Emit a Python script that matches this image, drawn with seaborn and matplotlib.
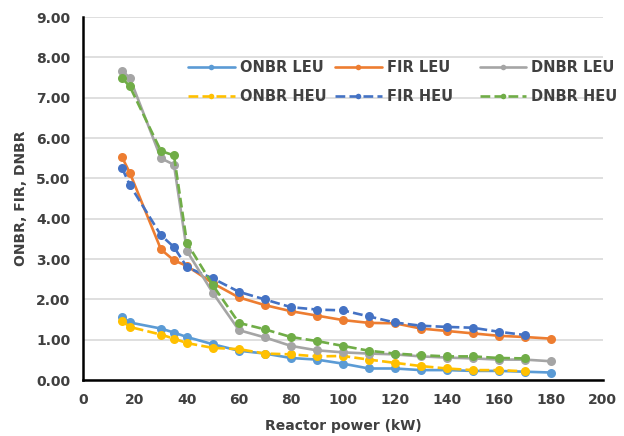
import matplotlib
matplotlib.use("Agg")
import matplotlib.pyplot as plt
from matplotlib.lines import Line2D
import seaborn as sns
import pandas as pd
import numpy as np

# reactor power (kW)
power_leu = [15, 18, 30, 35, 40, 50, 60, 70, 80, 90, 100, 110, 120, 130, 140, 150, 160, 170, 180]
power_heu = [15, 18, 30, 35, 40, 50, 60, 70, 80, 90, 100, 110, 120, 130, 140, 150, 160, 170]

onbr_leu = [1.57, 1.43, 1.28, 1.18, 1.07, 0.89, 0.73, 0.66, 0.55, 0.51, 0.41, 0.29, 0.29, 0.25, 0.25, 0.23, 0.23, 0.21, 0.19]
fir_leu = [5.53, 5.14, 3.24, 2.97, 2.83, 2.40, 2.05, 1.86, 1.71, 1.60, 1.49, 1.42, 1.41, 1.28, 1.22, 1.16, 1.10, 1.07, 1.03]
dnbr_leu = [7.67, 7.49, 5.50, 5.34, 3.20, 2.16, 1.24, 1.06, 0.85, 0.74, 0.69, 0.66, 0.64, 0.59, 0.56, 0.54, 0.51, 0.51, 0.47]

onbr_heu = [1.47, 1.32, 1.13, 1.03, 0.92, 0.80, 0.77, 0.66, 0.64, 0.59, 0.60, 0.51, 0.43, 0.35, 0.29, 0.25, 0.25, 0.22]
fir_heu = [5.26, 4.84, 3.59, 3.30, 2.80, 2.52, 2.19, 2.00, 1.81, 1.75, 1.73, 1.58, 1.43, 1.35, 1.32, 1.30, 1.20, 1.12]
dnbr_heu = [7.49, 7.28, 5.68, 5.57, 3.40, 2.35, 1.42, 1.26, 1.07, 0.97, 0.85, 0.73, 0.66, 0.62, 0.59, 0.59, 0.55, 0.54]

sns.set_theme(style="white")
plt.rcParams["font.family"] = ["DejaVu Sans"]

fig, ax = plt.subplots(figsize=(6.24, 4.36), dpi=100)
fig.subplots_adjust(left=0.133, right=0.966, bottom=0.128, top=0.961)

series = [
    ("ONBR LEU", power_leu, onbr_leu, "#5B9BD5", "-"),
    ("ONBR HEU", power_heu, onbr_heu, "#FFC000", "--"),
    ("FIR LEU", power_leu, fir_leu, "#ED7D31", "-"),
    ("FIR HEU", power_heu, fir_heu, "#4472C4", "--"),
    ("DNBR LEU", power_leu, dnbr_leu, "#A5A5A5", "-"),
    ("DNBR HEU", power_heu, dnbr_heu, "#70AD47", "--"),
]

for name, xs, ys, col, ls in series:
    df = pd.DataFrame({"power": xs, "val": ys})
    sns.lineplot(data=df, x="power", y="val", ax=ax, color=col, linestyle=ls,
                 marker="o", markersize=6.5, markeredgewidth=0, linewidth=1.9, legend=False)

ax.set_xlim(0, 200)
ax.set_ylim(0, 9)
ax.set_xticks(np.arange(0, 201, 20))
ax.set_yticks(np.arange(0, 9.01, 1))
ax.set_yticklabels([f"{v:.2f}" for v in np.arange(0, 9.01, 1)])
ax.yaxis.grid(True, color="#D9D9D9", linewidth=1.2)
ax.xaxis.grid(False)
for s in ["top", "right"]:
    ax.spines[s].set_visible(False)
for s in ["left", "bottom"]:
    ax.spines[s].set_color("black")
    ax.spines[s].set_linewidth(1.8)
ax.tick_params(axis="both", which="major", direction="out", length=5, width=1.5,
               color="black", labelsize=10, labelcolor="#404040")
ax.tick_params(axis="x", pad=4)
ax.tick_params(axis="y", pad=4)
for lbl in ax.get_xticklabels() + ax.get_yticklabels():
    lbl.set_fontweight("bold")

ax.set_xlabel("Reactor power (kW)", fontsize=10, fontweight="bold", color="#404040", labelpad=9)
ax.set_ylabel("ONBR, FIR, DNBR", fontsize=10, fontweight="bold", color="#404040", labelpad=6)

# legend: three equal-width columns (one legend per column, like the Excel layout)
handles = [Line2D([], [], color=col, linestyle=ls, linewidth=1.9, marker="o",
                  markersize=4, markeredgewidth=0) for _, _, _, col, ls in series]
labels = [s[0] for s in series]
col_x = [0.202, 0.485, 0.763]
for i, x0 in enumerate(col_x):
    leg = ax.legend(handles[2 * i:2 * i + 2], labels[2 * i:2 * i + 2], loc="center left",
                    bbox_to_anchor=(x0, 0.821), frameon=False, borderpad=0,
                    borderaxespad=0, handlelength=3.2, handletextpad=0.35,
                    labelspacing=0.95, prop={"weight": "bold", "size": 10.5})
    for t in leg.get_texts():
        t.set_color("#404040")
    if i < len(col_x) - 1:
        ax.add_artist(leg)

fig.savefig("out.png", dpi=100)
